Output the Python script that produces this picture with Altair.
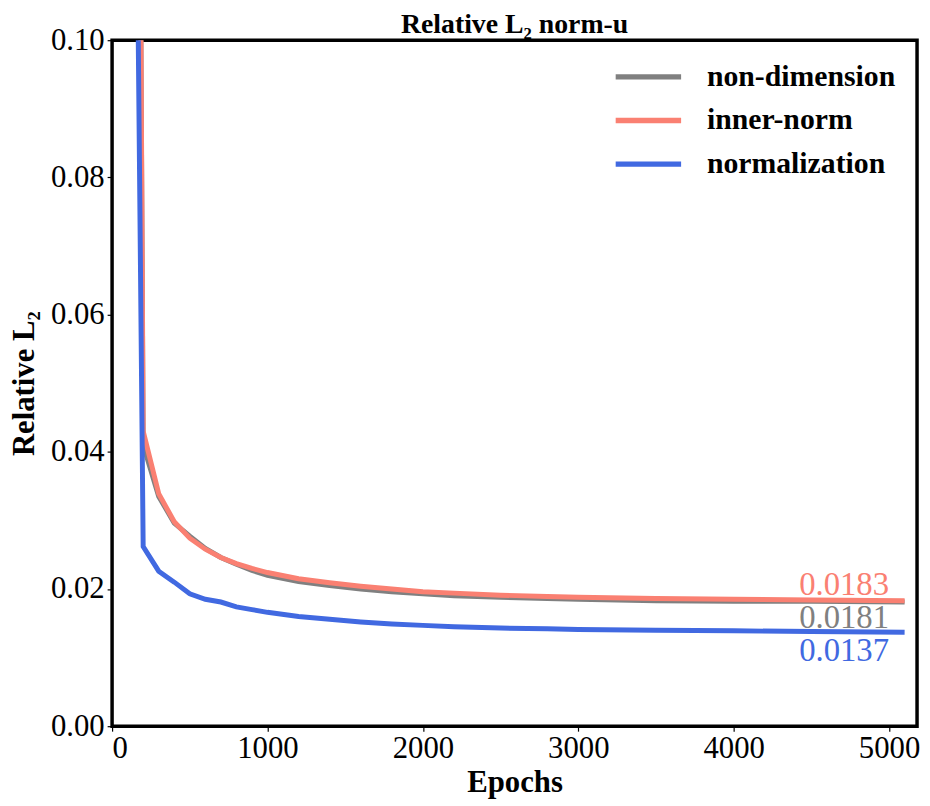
import altair as alt
import pandas as pd

epochs = [100, 200, 300, 400, 500, 600, 700, 800, 900, 1000, 1200, 1400, 1600,
          1800, 2000, 2200, 2500, 2800, 3000, 3500, 4000, 4500, 5100]

non_dimension = [0.45, 0.041, 0.0335, 0.0296, 0.0277, 0.0259, 0.0246, 0.0236, 0.0227,
                 0.0220, 0.0211, 0.0205, 0.0200, 0.0196, 0.0193, 0.0190, 0.0188,
                 0.0186, 0.0185, 0.0183, 0.0182, 0.0182, 0.0181]
inner_norm = [0.45, 0.043, 0.0339, 0.0298, 0.0274, 0.0258, 0.0246, 0.0237, 0.0230,
              0.0224, 0.0215, 0.0209, 0.0204, 0.0200, 0.0196, 0.0194, 0.0191,
              0.0189, 0.0188, 0.0186, 0.0185, 0.0184, 0.0183]
normalization = [0.26, 0.0262, 0.0226, 0.0210, 0.0193, 0.0185, 0.0181, 0.0174, 0.0170,
                 0.0166, 0.0160, 0.0156, 0.0152, 0.0149, 0.0147, 0.0145, 0.0143,
                 0.0142, 0.0141, 0.0140, 0.0139, 0.0138, 0.0137]

series_names = ["non-dimension", "inner-norm", "normalization"]
series_colors = ["#808080", "#FA8072", "#4169E1"]
final_labels = ["0.0181", "0.0183", "0.0137"]
final_values = [0.0181, 0.0183, 0.0137]
label_epoch = 5000

x_ticks = [0, 1000, 2000, 3000, 4000, 5000]
y_ticks = [0.00, 0.02, 0.04, 0.06, 0.08, 0.10]

rows = []
for name, vals in zip(series_names, [non_dimension, inner_norm, normalization]):
    for e, v in zip(epochs, vals):
        rows.append({"epoch": e, "value": v, "series": name})
df = pd.DataFrame(rows)

labels_df = pd.DataFrame({"series": series_names, "label": final_labels,
                          "value": final_values, "epoch": [label_epoch] * 3})

FONT = "Liberation Serif"

color = alt.Color("series:N",
                  scale=alt.Scale(domain=series_names, range=series_colors),
                  legend=alt.Legend(title=None, orient="none", legendX=505, legendY=22,
                                    symbolType="stroke", symbolSize=4356,
                                    symbolStrokeWidth=5.5, labelFont=FONT,
                                    labelFontSize=30, labelFontWeight="bold",
                                    labelOffset=23, clipHeight=30, rowPadding=14,
                                    padding=0, labelColor="black", labelLimit=400))

x = alt.X("epoch:Q", scale=alt.Scale(domain=[0, 5180], nice=False),
          axis=alt.Axis(title="Epochs", values=x_ticks, format="d"))
y = alt.Y("value:Q", scale=alt.Scale(domain=[0, 0.1], nice=False),
          axis=alt.Axis(title="Relative L₂", values=y_ticks, format=".2f"))

lines = alt.Chart(df).mark_line(clip=True, strokeWidth=5).encode(
    x=x, y=y, color=color, order=alt.Order("epoch:Q"))

def label_layer(name, col, dy):
    return alt.Chart(labels_df).transform_filter(alt.datum.series == name).mark_text(
        align="right", baseline="alphabetic", dx=0, dy=dy, font=FONT, fontSize=33,
        color=col).encode(x="epoch:Q", y="value:Q", text="label:N")

t1 = label_layer("inner-norm", "#FA8072", -6)
t2 = label_layer("non-dimension", "#808080", 26)
t3 = label_layer("normalization", "#4169E1", 29)

chart = alt.layer(lines, t1, t2, t3).properties(
    width=812, height=692,
    title=alt.TitleParams("Relative L₂ norm-u", font=FONT, fontSize=28,
                          fontWeight="bold", offset=-15, anchor="middle", color="black"),
    autosize=alt.AutoSizeParams(type="none"),
    padding={"left": 105, "top": 29, "right": 5, "bottom": 75},
).configure_view(
    stroke="black", strokeWidth=3.5
).configure_axis(
    grid=False, domain=False, ticks=True, tickColor="black", tickWidth=1.2, tickSize=5,
    labelFont=FONT, labelFontSize=31, labelColor="black", labelPadding=3,
    titleFont=FONT, titleFontSize=31, titleFontWeight="bold", titleColor="black"
).configure_axisX(titlePadding=4).configure_axisY(titlePadding=10)

chart.save("out.html", embed_options={"renderer": "svg", "actions": False})
